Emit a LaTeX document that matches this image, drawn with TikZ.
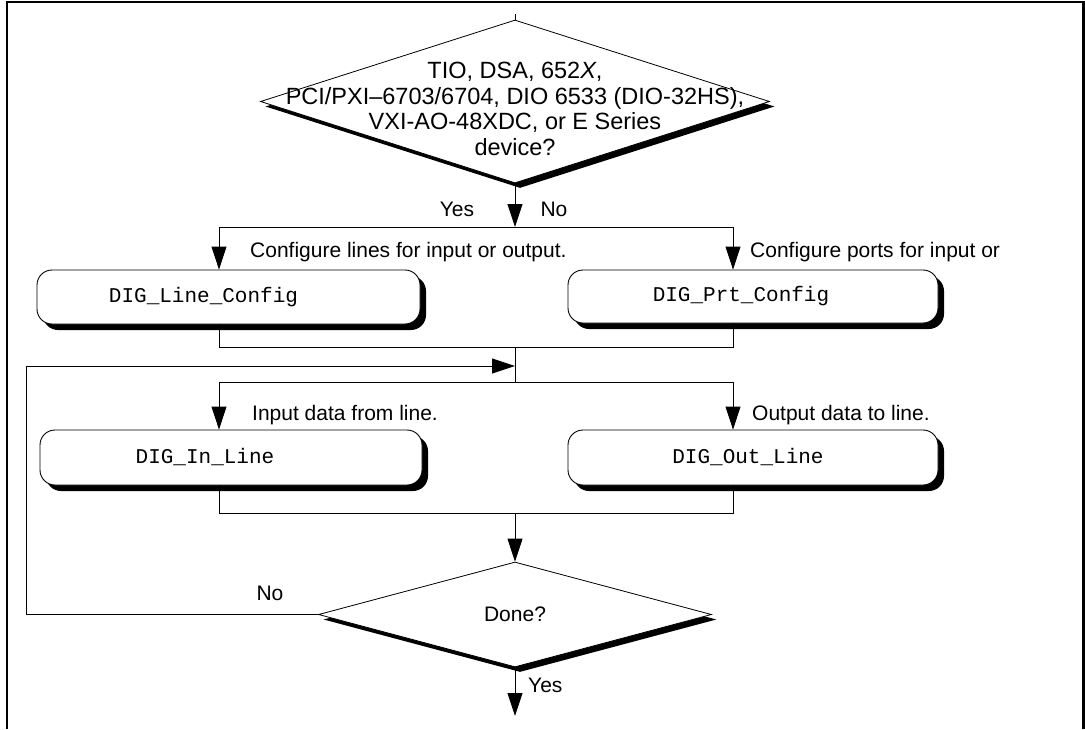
\documentclass[tikz,border=0pt]{standalone}
\usepackage{fontspec}
\setmainfont{Liberation Sans}
\setmonofont{Liberation Mono}
\usetikzlibrary{shapes.geometric,arrows.meta,shadows}
\tikzset{
  link/.style={line width=0.9pt},
  arr/.style={link,-{Triangle[length=23pt,width=15pt]}},
  proc/.style={draw,line width=0.9pt,fill=white,rounded corners=15pt,inner sep=0pt,
    drop shadow={shadow xshift=6pt,shadow yshift=-6pt,opacity=1,fill=black}},
  decide/.style={draw,diamond,line width=0.8pt,fill=white,inner sep=0pt,
    drop shadow={shadow xshift=5pt,shadow yshift=-5pt,opacity=1,fill=black}},
  lbl/.style={inner sep=0pt},
  call/.style={inner sep=0pt,font=\ttfamily\fontsize{21}{24}\selectfont}
}

\begin{document}
\begin{tikzpicture}[x=1pt,y=-1pt,font=\fontsize{21}{25}\selectfont]
\useasboundingbox (0,0) rectangle (1085,729);
\draw[line width=2.5pt] (7,729) -- (7,2) -- (1083.5,2) -- (1083.5,729);

% first test
\node[decide,minimum width=509pt,minimum height=163pt] (dev) at (515,101.5) {};
\node[lbl,align=center,font=\fontsize{23.5}{25.5}\selectfont] (devtxt) at (515,109)
  {TIO, DSA, 652\textit{X},\\PCI/PXI–6703/6704, DIO 6533 (DIO-32HS),\\VXI-AO-48XDC, or E Series\\device?};
\coordinate (top) at (515,14);
\draw[link] (top) -- (dev.north);

\coordinate (s1) at (515,227);
\coordinate (s1l) at (219,227);
\coordinate (s1r) at (733,227);
\draw[arr] (dev.south) -- (s1);
\draw[link] (s1l) -- (s1r);
\node[lbl] (yes1) at (457,209) {Yes};
\node[lbl] (no1) at (554,209) {No};

% configuration
\node[proc,minimum width=383pt,minimum height=54pt,
  label={[call,xshift=-25pt]center:DIG\_Line\_Config}] (lcfg) at (228.5,297) {};
\node[proc,minimum width=370pt,minimum height=53pt,
  label={[call,xshift=-12pt]center:DIG\_Prt\_Config}] (pcfg) at (753,296.5) {};
\draw[arr] (s1l) -- (s1l |- lcfg.north);
\draw[arr] (s1r) -- (s1r |- pcfg.north);
\node[lbl,anchor=west] (lcfgtxt) at (250,252) {Configure lines for input or output.};
\node[lbl,anchor=west] (pcfgtxt) at (750,252) {Configure ports for input or};

\coordinate (m1) at (515,347);
\coordinate (s2) at (515,382);
\coordinate (lp) at (515,366);
\draw[link] (s1l |- lcfg.south) -- (s1l |- m1) -- (s1r |- m1) -- (s1r |- pcfg.south);
\draw[link] (m1) -- (s2);
\draw[link] (s1l |- s2) -- (s1r |- s2);

% data transfer
\node[proc,minimum width=382pt,minimum height=55pt,
  label={[call,xshift=-26pt]center:DIG\_In\_Line}] (inl) at (231,457.5) {};
\node[proc,minimum width=370pt,minimum height=55pt,
  label={[call,xshift=-5pt]center:DIG\_Out\_Line}] (outl) at (753,457.5) {};
\draw[arr] (s1l |- s2) -- (s1l |- inl.north);
\draw[arr] (s1r |- s2) -- (s1r |- outl.north);
\node[lbl,anchor=west] (intxt) at (252,415) {Input data from line.};
\node[lbl,anchor=west] (outtxt) at (752,415) {Output data to line.};

\coordinate (m2) at (515,513);
\draw[link] (s1l |- inl.south) -- (s1l |- m2) -- (s1r |- m2) -- (s1r |- outl.south);

% loop test
\node[decide,minimum width=393pt,minimum height=105pt] (done) at (515,614.5) {Done?};
\draw[arr] (m2) -- (done.north);
\coordinate (back) at (26,613);
\draw[link] (done.west) -- (back |- done.west) -- (back |- lp);
\draw[arr] (back |- lp) -- (lp);
\node[lbl] (no2) at (270,593) {No};
\coordinate (out) at (515,716);
\draw[arr] (done.south) -- (out);
\node[lbl,anchor=west] (yes2) at (528,685) {Yes};
\end{tikzpicture}
\end{document}
